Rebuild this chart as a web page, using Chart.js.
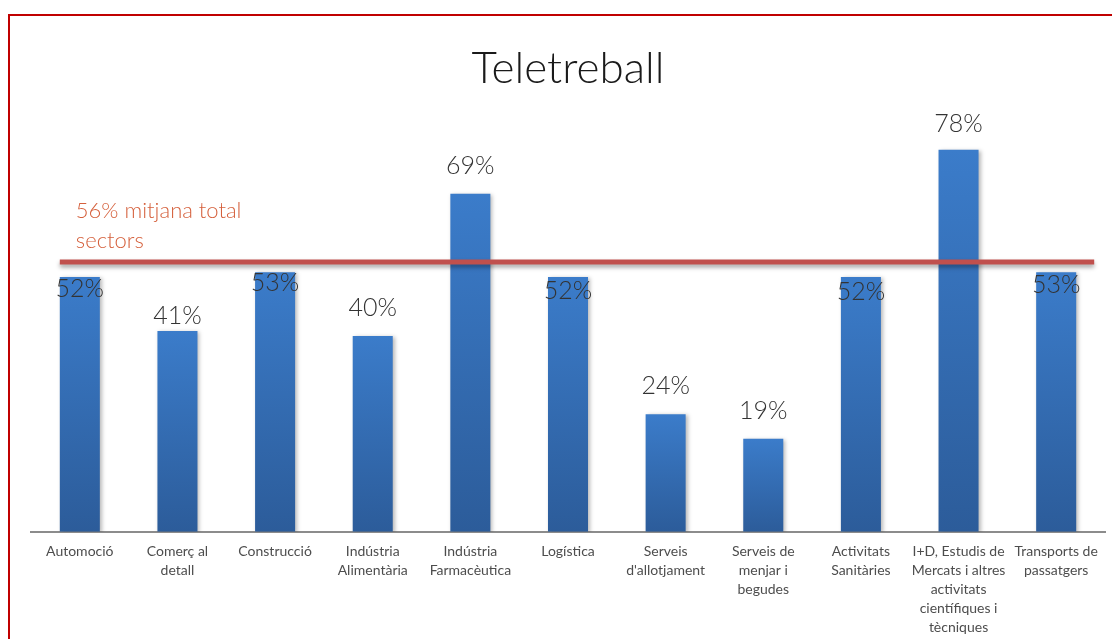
<!DOCTYPE html>
<html>
<head>
<meta charset="utf-8">
<script src="https://cdn.jsdelivr.net/npm/chart.js@4"></script>
<style>
  html, body { margin: 0; padding: 0; background: #fff; overflow: hidden; }
  #wrap { position: relative; width: 1112px; height: 639px; overflow: hidden; }
  #frame { position: absolute; left: 8px; top: 14px; width: 1200px; height: 700px;
           border-left: 2px solid #c00000; border-top: 2px solid #c00000; box-sizing: border-box; pointer-events: none; }
  canvas { position: absolute; left: 0; top: 0; }
</style>
</head>
<body>
<div id="wrap">
  <canvas id="c" width="1112" height="649"></canvas>
  <div id="frame"></div>
</div>
<script>
// ---- data ----
const categories = [
  "Automoció",
  ["Comerç al", "detall"],
  "Construcció",
  ["Indústria", "Alimentària"],
  ["Indústria", "Farmacèutica"],
  "Logística",
  ["Serveis", "d'allotjament"],
  ["Serveis de", "menjar i", "begudes"],
  ["Activitats", "Sanitàries"],
  ["I+D, Estudis de", "Mercats i altres", "activitats", "científiques i", "tècniques"],
  ["Transports de", "passatgers"]
];
const teletreball = [52, 41, 53, 40, 69, 52, 24, 19, 52, 78, 53];
const averageValue = 56;              // label value
const averageLineLevel = 55.1;        // level where the reference draws the line
const averageLabel = ["56% mitjana total", "sectors"];
const chartTitle = "Teletreball";

// label vertical shifts (px) used in the reference to avoid overlap with the average line
const labelShift = [40, 13, 39, 0, 0, 42, 0, 0, 43, 2, 41];

const numFont = "Lato, 'Open Sans', sans-serif";

const barShadow = {
  id: 'barShadow',
  beforeDatasetDraw(chart) {
    const ctx = chart.ctx;
    ctx.save();
    ctx.shadowColor = 'rgba(0,0,0,0.28)';
    ctx.shadowBlur = 4;
    ctx.shadowOffsetX = 2;
    ctx.shadowOffsetY = 1;
  },
  afterDatasetDraw(chart) { chart.ctx.restore(); }
};

const overlay = {
  id: 'overlay',
  afterDatasetsDraw(chart) {
    const ctx = chart.ctx;
    const x = chart.scales.x, y = chart.scales.y;
    const meta = chart.getDatasetMeta(0);
    const bw = meta.data[0].width;
    // average line
    const ly = y.getPixelForValue(averageLineLevel);
    const x0 = x.getPixelForValue(0) - bw / 2;
    const x1 = x.getPixelForValue(categories.length - 1) + bw / 2 + 18;
    ctx.save();
    ctx.shadowColor = 'rgba(0,0,0,0.35)';
    ctx.shadowBlur = 4;
    ctx.shadowOffsetY = 3;
    ctx.strokeStyle = '#c0504d';
    ctx.lineWidth = 5;
    ctx.beginPath();
    ctx.moveTo(x0, ly);
    ctx.lineTo(x1, ly);
    ctx.stroke();
    ctx.restore();
    // average label
    ctx.save();
    ctx.fillStyle = '#d5603c';
    ctx.font = "300 22px " + numFont;
    ctx.textBaseline = 'middle';
    ctx.textAlign = 'left';
    averageLabel.forEach((t, i) => {
      ctx.fillText(t, x0 + 16, ly - 51 + i * 30);
    });
    ctx.restore();
    // value labels
    ctx.save();
    ctx.fillStyle = '#333333';
    ctx.font = "300 25px " + numFont;
    ctx.textAlign = 'center';
    ctx.textBaseline = 'middle';
    meta.data.forEach((bar, i) => {
      ctx.fillText(teletreball[i] + '%', bar.x, bar.y - 28 + labelShift[i]);
    });
    ctx.restore();
  }
};

new Chart(document.getElementById('c'), {
  type: 'bar',
  data: {
    labels: categories,
    datasets: [{
      label: chartTitle,
      data: teletreball,
      backgroundColor(ctx) {
        const chart = ctx.chart;
        const ys = chart.scales && chart.scales.y;
        if (!ys || ctx.dataIndex === undefined || ctx.raw === undefined) return '#3570b8';
        const top = ys.getPixelForValue(ctx.raw);
        const bottom = ys.getPixelForValue(0);
        if (!isFinite(top) || !isFinite(bottom) || top === bottom) return '#3570b8';
        const g = chart.ctx.createLinearGradient(0, top, 0, bottom);
        g.addColorStop(0, '#3b7cca');
        g.addColorStop(1, '#2c5c9a');
        return g;
      },
      borderWidth: 0,
      barPercentage: 0.41,
      categoryPercentage: 1.0
    }]
  },
  options: {
    responsive: false,
    animation: false,
    layout: { padding: { left: 31, right: 7, top: 0, bottom: 2 } },
    plugins: {
      legend: { display: false },
      tooltip: { enabled: false },
      title: {
        display: true,
        text: chartTitle,
        color: '#1a1a1a',
        font: { family: numFont, size: 44, weight: '300', lineHeight: 1.2 },
        padding: { top: 42, bottom: 6 }
      }
    },
    scales: {
      y: { display: false, min: 0, max: 88 },
      x: {
        grid: { display: false, drawTicks: false },
        border: { display: true, color: '#8c8c8c', width: 2 },
        ticks: {
          color: '#4d4d4d',
          font: { family: numFont, size: 14, weight: '400', lineHeight: 1.36 },
          maxRotation: 0, minRotation: 0, autoSkip: false, padding: 10
        }
      }
    }
  },
  plugins: [barShadow, overlay]
});
</script>
</body>
</html>
